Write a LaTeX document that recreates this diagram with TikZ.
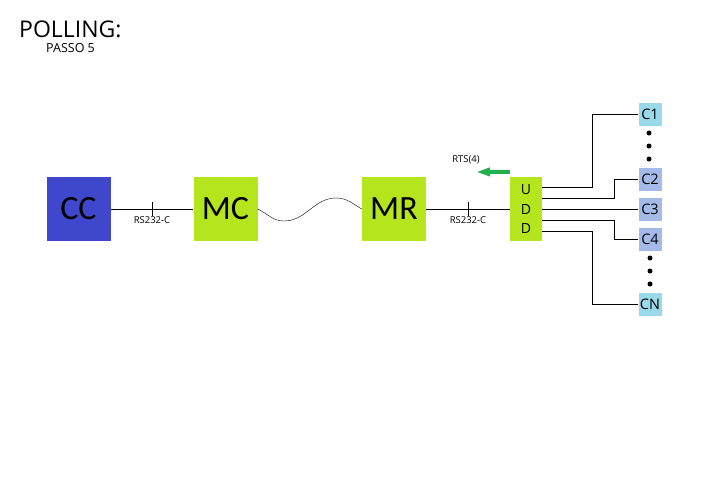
\documentclass[tikz,border=0pt]{standalone}
\usepackage{fontspec}
\setmainfont{Open Sans}
\newfontfamily\boxfont{Carlito}
\usepackage{tikz}
\usetikzlibrary{arrows.meta}
\usetikzlibrary{calc}

\definecolor{ccblue}{RGB}{63,72,204}
\definecolor{lime}{RGB}{181,230,29}
\definecolor{cyanbox}{RGB}{153,217,234}
\definecolor{lavbox}{RGB}{164,186,232}
\definecolor{arrgreen}{RGB}{34,177,76}

\begin{document}
\begin{tikzpicture}[x=1pt,y=-1pt]
    \useasboundingbox (0,0) rectangle (720,480);

    \newcommand{\serial}[1]{coordinate[midway] (#1) node[midway,below=7pt,inner sep=0pt,font=\fontsize{9.5}{10}\selectfont] {RS232-C}}

    \tikzstyle{wire}  = [thin,draw=black]
    \tikzstyle{unit}=[
      rectangle,
      anchor=center,
      inner sep=0pt,
      minimum width=64pt,
      minimum height=64pt,
      font=\boxfont\fontsize{34}{34}\selectfont,
    ]
    \tikzstyle{udd}=[
      unit,
      fill=lime,
      minimum width=32pt,
      align=center,
      font=\fontsize{14}{19.5}\selectfont,
    ]
    \tikzstyle{client}=[
      rectangle,
      anchor=center,
      inner sep=0pt,
      minimum size=23pt,
      font=\fontsize{14.5}{14.5}\selectfont,
    ]
    \tikzstyle{vdot}=[circle,fill=black,inner sep=0pt,minimum size=5pt]
    \tikzstyle{rts}=[line width=4pt,draw=arrgreen,-{Triangle[length=14pt,width=8pt]}]

    % title
    {
      \node[anchor=base west,inner sep=0pt,text depth=0pt,font=\fontsize{23}{23}\selectfont] (title) at (19,37) {POLLING:};
      \node[anchor=base west,inner sep=0pt,text height=8pt,font=\fontsize{12.5}{12.5}\selectfont] (step5) at (46,52) {PASSO 5};
    }

    % units
    {
      \node[unit,fill=ccblue] (cc) at (78.5,209) {CC};
      \node[unit,fill=lime] (mc) at (225.5,209) {MC};
      \node[unit,fill=lime] (mr) at (394,209) {MR};
      \node[udd] (ud) at (526,209) {U\\D\\D};
    }

    % clients
    {
      \node[client,fill=cyanbox] (c1) at (650,114.5) {C1};
      \node[client,fill=lavbox] (c2) at (650,179.5) {C2};
      \node[client,fill=lavbox] (c3) at (650,209) {C3};
      \node[client,fill=lavbox] (c4) at (650,239.5) {C4};
      \node[client,fill=cyanbox] (cn) at (650,304) {CN};

      \node[vdot] (d11) at (649,133) {};
      \node[vdot] (d12) at (649,146) {};
      \node[vdot] (d13) at (649,159) {};
      \node[vdot] (d41) at (650,258) {};
      \node[vdot] (d42) at (650,271) {};
      \node[vdot] (d43) at (650,284) {};
    }

    % links
    {
      \draw[wire] (cc) -- (mc) \serial{t1};
      \draw[wire] ([yshift=7pt]t1) -- ([yshift=-7pt]t1);
      \draw[wire] (mc.east) to[out=-25,in=180] (284,221) to[out=0,in=180] (336,198) to[out=0,in=150] (mr.west);
      \draw[wire] (mr) -- (ud) \serial{t2};
      \draw[wire] ([yshift=7pt]t2) -- ([yshift=-7pt]t2);
    }

    % polling request
    {
      \node[font=\fontsize{9.5}{10}\selectfont] (rtslbl) at (466,160) {RTS(4)};
      \coordinate (rtsend) at (476,172);
      \draw[rts] ([yshift=5pt]ud.north west) -- (rtsend);
    }

    % fan out
    {
      \draw[wire] ([yshift=22pt]ud.east) -- ++(50,0) |- (c1.west);
      \draw[wire] ([yshift=11pt]ud.east) -- ++(72,0) |- (c2.west);
      \draw[wire] (ud.east) -- (c3.west);
      \draw[wire] ([yshift=-11pt]ud.east) -- ++(72,0) |- (c4.west);
      \draw[wire] ([yshift=-22pt]ud.east) -- ++(50,0) |- (cn.west);
    }
\end{tikzpicture}
\end{document}
